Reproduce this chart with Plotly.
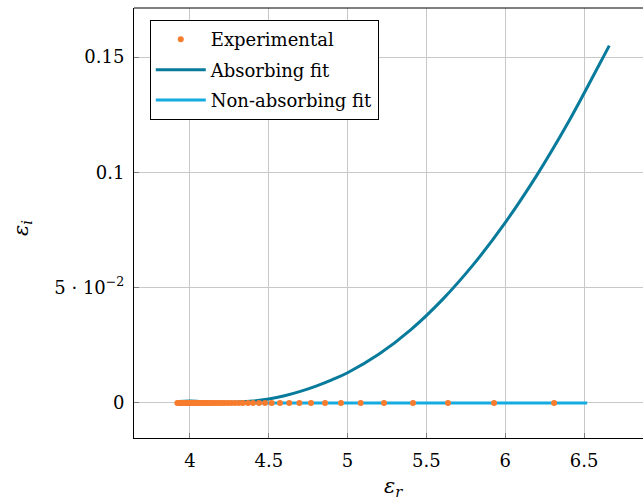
import plotly.graph_objects as go

# Experimental data (epsilon_r, epsilon_i)
exp_er = [3.920, 3.927, 3.934, 3.941, 3.948, 3.955, 3.962, 3.969, 3.976, 3.983,
          3.990, 3.997, 4.004, 4.012, 4.020, 4.028, 4.036, 4.045, 4.054, 4.063,
          4.073, 4.083, 4.094, 4.105, 4.117, 4.129, 4.142, 4.156, 4.171, 4.187,
          4.204, 4.222, 4.242, 4.263, 4.286, 4.311, 4.336, 4.368, 4.400, 4.438,
          4.476, 4.518, 4.571, 4.630, 4.694, 4.768, 4.857, 4.958, 5.083, 5.231,
          5.415, 5.637, 5.929, 6.310]
exp_ei = [0.0] * len(exp_er)

# Absorbing fit
abs_er = [3.93, 4.00, 4.10, 4.20, 4.30, 4.40, 4.50, 4.60, 4.70, 4.80, 4.90, 5.00,
          5.20, 5.40, 5.60, 5.80, 6.00, 6.20, 6.40, 6.60, 6.66]
abs_ei = [0.0006, 0.0008, 0.0005, 0.0003, 0.0004, 0.0008, 0.0017, 0.0031, 0.0050,
          0.0073, 0.0100, 0.0131, 0.0212, 0.0317, 0.0447, 0.0602, 0.0782, 0.0987,
          0.1217, 0.1472, 0.1550]

# Non-absorbing fit
nabs_er = [3.92, 6.52]
nabs_ei = [0.0, 0.0]

x_ticks = [4, 4.5, 5, 5.5, 6, 6.5]
x_tick_text = ["4", "4.5", "5", "5.5", "6", "6.5"]
y_ticks = [0, 0.05, 0.1, 0.15]
y_tick_text = ["0", "5 · 10<sup>−2</sup>", "0.1", "0.15"]

FONT = "DejaVu Serif"
C_EXP = "#F77C2E"
C_ABS = "#087B9C"
C_NABS = "#14ABE0"

fig = go.Figure()
fig.add_trace(go.Scatter(x=nabs_er, y=nabs_ei, mode="lines", name="Non-absorbing fit",
                         line=dict(color=C_NABS, width=3), showlegend=False))
fig.add_trace(go.Scatter(x=abs_er, y=abs_ei, mode="lines", name="Absorbing fit",
                         line=dict(color=C_ABS, width=3, shape="spline", smoothing=1),
                         showlegend=False))
fig.add_trace(go.Scatter(x=exp_er, y=exp_ei, mode="markers", name="Experimental",
                         marker=dict(color=C_EXP, size=6), showlegend=False))
# legend-only entries in the proper order
fig.add_trace(go.Scatter(x=[None], y=[None], mode="markers", name="Experimental",
                         legendgroup="a", marker=dict(color=C_EXP, size=6)))
fig.add_trace(go.Scatter(x=[None], y=[None], mode="lines", name="Absorbing fit",
                         legendgroup="b", line=dict(color=C_ABS, width=3)))
fig.add_trace(go.Scatter(x=[None], y=[None], mode="lines", name="Non-absorbing fit",
                         legendgroup="c", line=dict(color=C_NABS, width=3)))

fig.update_layout(
    width=643, height=502,
    margin=dict(l=134, r=0, t=8, b=64),
    paper_bgcolor="white", plot_bgcolor="white",
    font=dict(family=FONT, size=18, color="black"),
    showlegend=True,
    legend=dict(x=0.031, y=0.972, xanchor="left", yanchor="top",
                bgcolor="white", bordercolor="black", borderwidth=1,
                font=dict(family=FONT, size=18), tracegroupgap=4,
                traceorder="grouped", itemwidth=50),
    xaxis=dict(range=[3.645, 6.874], tickvals=x_ticks, ticktext=x_tick_text,
               showgrid=True, gridcolor="#c8c8c8", gridwidth=1,
               showline=True, linecolor="black", linewidth=1, mirror=False,
               ticks="inside", ticklen=5, tickcolor="#808080", zeroline=False,
               ticklabelstandoff=6,
               tickfont=dict(family=FONT, size=18)),
    yaxis=dict(range=[-0.0152, 0.1713], tickvals=y_ticks, ticktext=y_tick_text,
               showgrid=True, gridcolor="#c8c8c8", gridwidth=1,
               showline=True, linecolor="black", linewidth=1, mirror=False,
               ticks="inside", ticklen=5, tickcolor="#808080", zeroline=False,
               ticklabelstandoff=5,
               tickfont=dict(family=FONT, size=18)),
)
fig.add_shape(type="line", xref="paper", yref="paper", x0=0, x1=1, y0=1, y1=1,
              line=dict(color="black", width=1))
fig.add_annotation(text="<i>ε</i><sub><i>r</i></sub>", xref="paper", yref="paper",
                   x=(393 - 134) / 509, y=-0.114, yanchor="middle", showarrow=False,
                   font=dict(family=FONT, size=21))
fig.add_annotation(text="<i>ε</i><sub><i>i</i></sub>", xref="paper", yref="paper",
                   x=-(134 - 22) / 509, y=(438 - 228) / 430, xanchor="center",
                   yanchor="middle", textangle=-90, showarrow=False,
                   font=dict(family=FONT, size=21))

fig.write_html("out.html")
